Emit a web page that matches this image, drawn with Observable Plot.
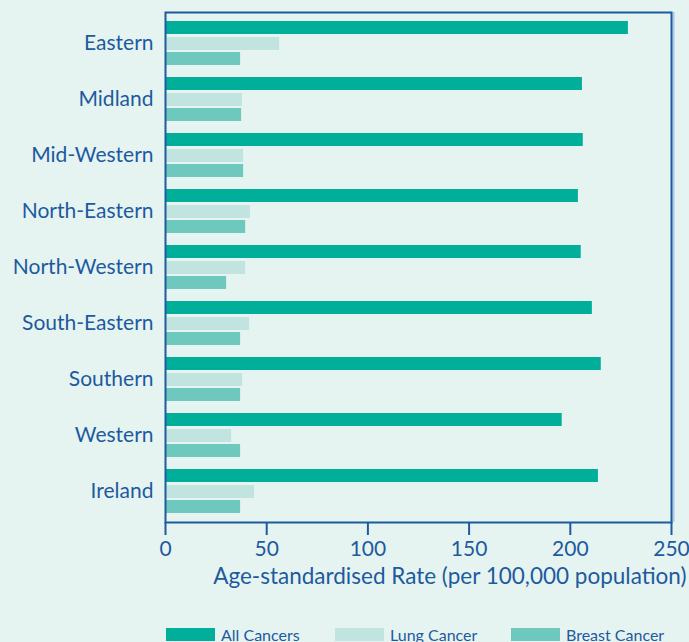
<!DOCTYPE html>
<html>
<head>
<meta charset="utf-8">
<script src="https://cdn.jsdelivr.net/npm/d3@7"></script>
<script src="https://cdn.jsdelivr.net/npm/@observablehq/plot@0.6"></script>
<style>
  html, body { margin: 0; padding: 0; background: #e6f4f1; }
  #chart { width: 689px; height: 642px; position: relative; overflow: hidden; background: #e6f4f1; font-family: Lato, "Open Sans", sans-serif; }
  #legend { position: absolute; left: 166px; top: 626px; height: 16px; display: flex; align-items: center; font-size: 16px; line-height: 15px; color: #1d5a9e; }
  .item { display: flex; align-items: center; height: 16px; }
  .sw { width: 49px; height: 13px; margin-right: 6px; }
</style>
</head>
<body>
<div id="chart"></div>
<script>
const regions = ["Eastern", "Midland", "Mid-Western", "North-Eastern", "North-Western", "South-Eastern", "Southern", "Western", "Ireland"];
const allCancers = [228.7, 206, 206.4, 204, 205.4, 210.9, 215.3, 196, 213.9];
const lungCancer = [56.4, 38, 38.6, 42, 39.6, 41.6, 38.1, 32.7, 44];
const breastCancer = [37.1, 37.6, 38.6, 39.6, 30.2, 37.1, 37.1, 37.1, 37.1];
const seriesNames = ["All Cancers", "Lung Cancer", "Breast Cancer"];
const seriesColors = ["#00ae9a", "#c2e4e0", "#6fc8bd"];
const xTicks = [0, 50, 100, 150, 200, 250];
const xLabel = "Age-standardised Rate (per 100,000 population)";

const rows = (vals) => regions.map((r, i) => ({region: r, value: vals[i]}));
const ink = "#1d5a9e";

const plot = Plot.plot({
  width: 689,
  height: 600,
  marginLeft: 165,
  marginRight: 18,
  marginTop: 12,
  marginBottom: 78,
  style: {background: "transparent", color: ink, fontFamily: "Lato, 'Open Sans', sans-serif", fontSize: "21px", overflow: "visible"},
  x: {domain: [0, 250], ticks: xTicks, label: null},
  y: {domain: regions, paddingInner: 0.21, paddingOuter: 0.1, label: null},
  marks: [
    Plot.barX(rows(allCancers), {y: "region", x: "value", fill: seriesColors[0], insetTop: 0, insetBottom: 31}),
    Plot.barX(rows(lungCancer), {y: "region", x: "value", fill: seriesColors[1], insetTop: 16, insetBottom: 15}),
    Plot.barX(rows(breastCancer), {y: "region", x: "value", fill: seriesColors[2], insetTop: 31, insetBottom: 0}),
    Plot.ruleX([250], {stroke: "#a9c7e6", strokeWidth: 2, dx: 2}),
    Plot.frame({stroke: ink, strokeWidth: 2}),
    Plot.axisY({tickSize: 0, tickPadding: 12, fontSize: 21, label: null}),
    Plot.axisX({ticks: xTicks, tickSize: 13, tickPadding: 6, fontSize: 21, strokeWidth: 2, label: null}),
    Plot.text([xLabel], {frameAnchor: "bottom-right", textAnchor: "end", dx: 15, dy: 61, fontSize: 22.5, fill: ink})
  ]
});
document.getElementById("chart").appendChild(plot);

const legend = document.createElement("div");
legend.id = "legend";
const widths = [169, 176, 0];
seriesNames.forEach((name, i) => {
  const item = document.createElement("div");
  item.className = "item";
  if (i < 2) item.style.width = widths[i] + "px";
  const sw = document.createElement("div");
  sw.className = "sw";
  sw.style.background = seriesColors[i];
  const t = document.createElement("span");
  t.textContent = name;
  item.appendChild(sw); item.appendChild(t);
  legend.appendChild(item);
});
document.getElementById("chart").appendChild(legend);
</script>
</body>
</html>
